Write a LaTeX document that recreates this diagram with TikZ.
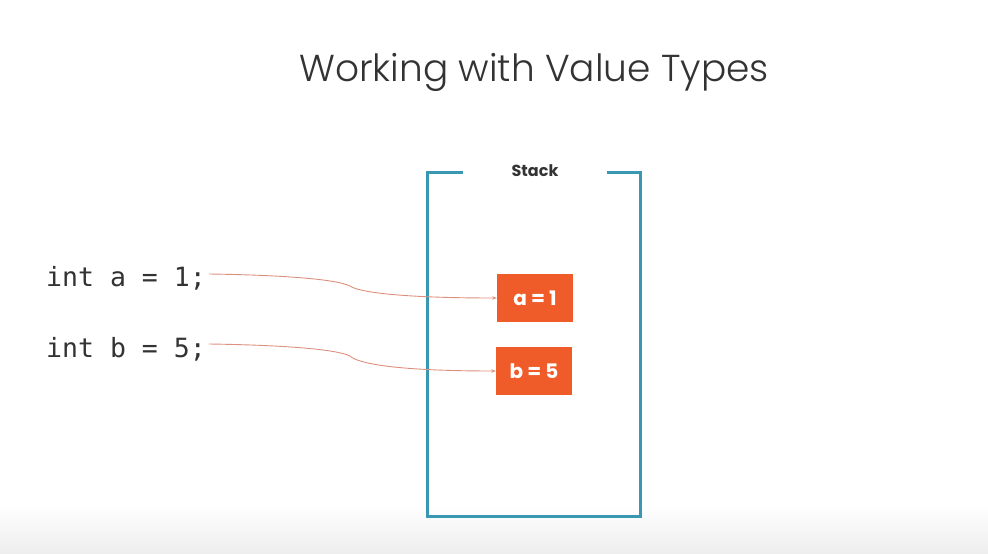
\documentclass[tikz,border=0pt]{standalone}
\usepackage{fontspec}
\setmainfont{Poppins}
\newfontfamily\titlefont{Poppins}[UprightFont=* Light]
\newfontfamily\codefont{DejaVu Sans Mono}
\usetikzlibrary{arrows.meta}
\definecolor{stackblue}{HTML}{3A97B1}
\definecolor{boxorange}{HTML}{F05B2A}
\definecolor{linkred}{HTML}{DD907F}
\definecolor{textgray}{HTML}{333333}
\tikzset{
  valbox/.style={fill=boxorange, draw=none, minimum width=76pt, minimum height=48pt,
    inner sep=0pt, text=white, font=\fontsize{20}{20}\selectfont\bfseries},
  code/.style={anchor=base west, inner sep=0pt, text=textgray,
    font=\codefont\fontsize{26.5}{26.5}\selectfont},
  link/.style={draw=linkred, line width=0.9pt, -{Stealth[length=4.5pt,width=3.5pt]}},
  frame/.style={draw=stackblue, line width=3pt}
}
\begin{document}
\begin{tikzpicture}[x=1pt,y=-1pt]
  % canvas with light fade at the bottom
  \fill[white] (0,0) rectangle (988,554);
  \shade[top color=white, bottom color=black!7] (0,505) rectangle (988,554);
  \useasboundingbox (0,0) rectangle (988,554);

  % title
  \node[text=textgray, font=\titlefont\fontsize{37.5}{37.5}\selectfont, anchor=base] (title) at (534,81) {Working with Value Types};

  % stack frame with an opening for its label
  \draw[frame] (463,172) -- (427,172) -- (427,516) -- (640,516) -- (640,172) -- (607,172);
  \node[text=textgray, font=\fontsize{16}{16}\selectfont\bfseries] (stacklbl) at (535,171) {Stack};

  % values on the stack
  \node[valbox] (va) at (535,298) {a = 1};
  \node[valbox] (vb) at (534,371) {b = 5};

  % source lines
  \node[code] (la) at (46,286) {int a = 1;};
  \node[code] (lb) at (46,357) {int b = 5;};

  % links from declarations to stack slots
  \coordinate (ka) at (350,286);
  \coordinate (kb) at (350,356);
  \draw[link] (la.base east) ++(3,-12) coordinate (sa)
    (sa) .. controls (280,275) and (336,279) .. (ka)
    .. controls (358,292) and (400,298) .. (va.west);
  \draw[link] (lb.base east) ++(3,-13) coordinate (sb)
    (sb) .. controls (280,345) and (336,349) .. (kb)
    .. controls (358,364) and (400,371) .. (vb.west);
\end{tikzpicture}
\end{document}
